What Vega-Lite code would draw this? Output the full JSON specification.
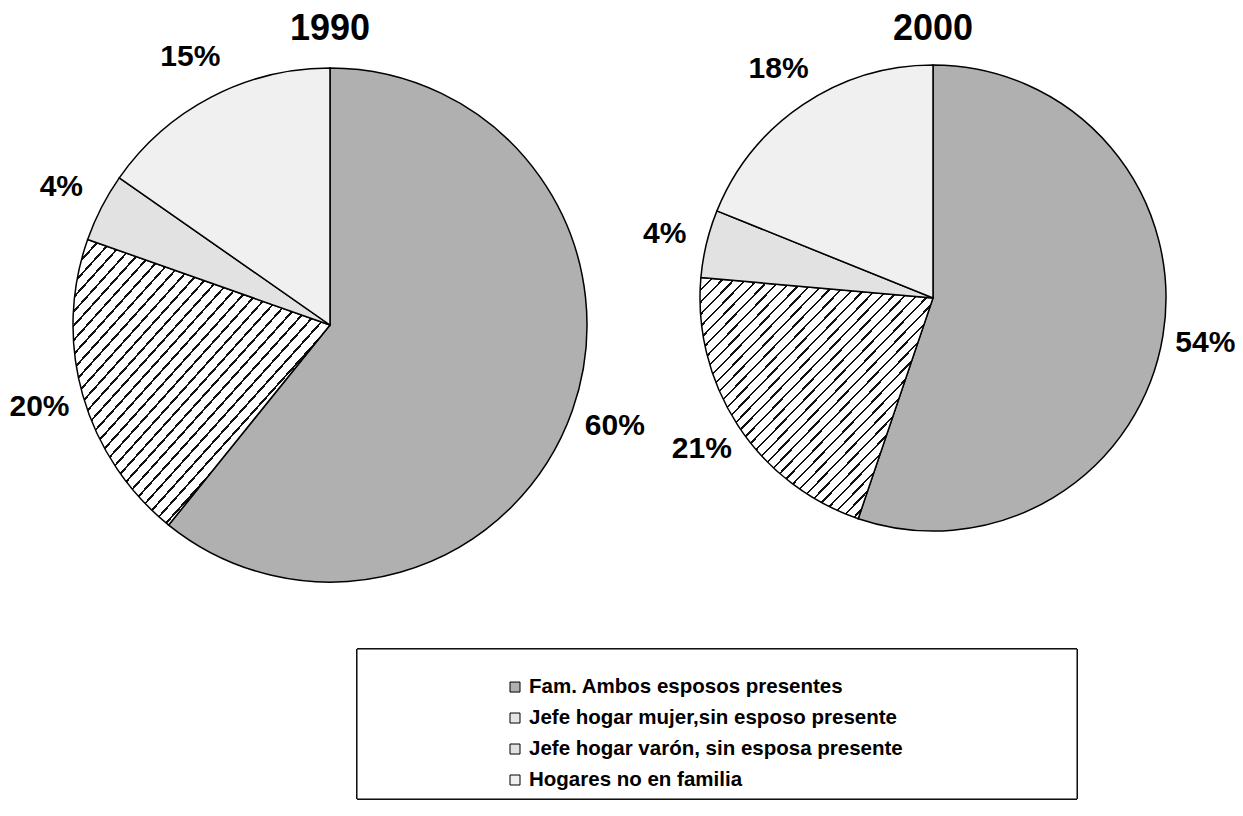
{
  "$schema": "https://vega.github.io/schema/vega-lite/v6.json",
  "background": "white",
  "padding": {"left": 0, "top": 11, "right": 0, "bottom": 0},
  "config": {
    "view": {"stroke": null},
    "font": "Liberation Sans",
    "title": {"fontSize": 36, "fontWeight": "bold", "font": "Liberation Sans", "color": "black", "offset": -10, "anchor": "middle", "frame": "group"}
  },
  "datasets": {
    "pies": [
      {"year": "1990", "cat": "Fam. Ambos esposos presentes", "ord": 1, "value": 60.8, "label": "60%"},
      {"year": "1990", "cat": "Jefe hogar mujer,sin esposo presente", "ord": 2, "value": 19.6, "label": "20%"},
      {"year": "1990", "cat": "Jefe hogar varón, sin esposa presente", "ord": 3, "value": 4.3, "label": "4%"},
      {"year": "1990", "cat": "Hogares no en familia", "ord": 4, "value": 15.3, "label": "15%"},
      {"year": "2000", "cat": "Fam. Ambos esposos presentes", "ord": 1, "value": 55.2, "label": "54%"},
      {"year": "2000", "cat": "Jefe hogar mujer,sin esposo presente", "ord": 2, "value": 21.2, "label": "21%"},
      {"year": "2000", "cat": "Jefe hogar varón, sin esposa presente", "ord": 3, "value": 4.7, "label": "4%"},
      {"year": "2000", "cat": "Hogares no en familia", "ord": 4, "value": 18.9, "label": "18%"}
    ],
    "legend": [
      {"cat": "Fam. Ambos esposos presentes", "ord": 1},
      {"cat": "Jefe hogar mujer,sin esposo presente", "ord": 2},
      {"cat": "Jefe hogar varón, sin esposa presente", "ord": 3},
      {"cat": "Hogares no en familia", "ord": 4}
    ]
  },
  "spacing": 36,
  "vconcat": [
    {
      "bounds": "flush",
      "spacing": 20,
      "hconcat": [
        {
          "title": "1990",
          "width": 660,
          "height": 574,
          "data": {"name": "pies"},
          "transform": [{"filter": "datum.year === '1990'"}],
          "layer": [
            {
              "mark": {"type": "arc", "outerRadius": 257, "stroke": "black", "strokeWidth": 1.5},
              "encoding": {
                "theta": {"field": "value", "type": "quantitative", "stack": true},
                "order": {"field": "ord", "type": "quantitative"},
                "fill": {
                  "condition": {"test": "datum.cat === 'Jefe hogar mujer,sin esposo presente'",
                    "value": {"gradient": "linear", "x1": 0, "y1": 0, "x2": 1, "y2": 1, "stops": [
                      {"offset": 0, "color": "#111"}, {"offset": 0.005, "color": "#111"}, {"offset": 0.005, "color": "#fff"}, {"offset": 0.025, "color": "#fff"},
                      {"offset": 0.025, "color": "#111"}, {"offset": 0.03, "color": "#111"}, {"offset": 0.03, "color": "#fff"}, {"offset": 0.05, "color": "#fff"},
                      {"offset": 0.05, "color": "#111"}, {"offset": 0.055, "color": "#111"}, {"offset": 0.055, "color": "#fff"}, {"offset": 0.075, "color": "#fff"},
                      {"offset": 0.075, "color": "#111"}, {"offset": 0.08, "color": "#111"}, {"offset": 0.08, "color": "#fff"}, {"offset": 0.1, "color": "#fff"},
                      {"offset": 0.1, "color": "#111"}, {"offset": 0.105, "color": "#111"}, {"offset": 0.105, "color": "#fff"}, {"offset": 0.125, "color": "#fff"},
                      {"offset": 0.125, "color": "#111"}, {"offset": 0.13, "color": "#111"}, {"offset": 0.13, "color": "#fff"}, {"offset": 0.15, "color": "#fff"},
                      {"offset": 0.15, "color": "#111"}, {"offset": 0.155, "color": "#111"}, {"offset": 0.155, "color": "#fff"}, {"offset": 0.175, "color": "#fff"},
                      {"offset": 0.175, "color": "#111"}, {"offset": 0.18, "color": "#111"}, {"offset": 0.18, "color": "#fff"}, {"offset": 0.2, "color": "#fff"},
                      {"offset": 0.2, "color": "#111"}, {"offset": 0.205, "color": "#111"}, {"offset": 0.205, "color": "#fff"}, {"offset": 0.225, "color": "#fff"},
                      {"offset": 0.225, "color": "#111"}, {"offset": 0.23, "color": "#111"}, {"offset": 0.23, "color": "#fff"}, {"offset": 0.25, "color": "#fff"},
                      {"offset": 0.25, "color": "#111"}, {"offset": 0.255, "color": "#111"}, {"offset": 0.255, "color": "#fff"}, {"offset": 0.275, "color": "#fff"},
                      {"offset": 0.275, "color": "#111"}, {"offset": 0.28, "color": "#111"}, {"offset": 0.28, "color": "#fff"}, {"offset": 0.3, "color": "#fff"},
                      {"offset": 0.3, "color": "#111"}, {"offset": 0.305, "color": "#111"}, {"offset": 0.305, "color": "#fff"}, {"offset": 0.325, "color": "#fff"},
                      {"offset": 0.325, "color": "#111"}, {"offset": 0.33, "color": "#111"}, {"offset": 0.33, "color": "#fff"}, {"offset": 0.35, "color": "#fff"},
                      {"offset": 0.35, "color": "#111"}, {"offset": 0.355, "color": "#111"}, {"offset": 0.355, "color": "#fff"}, {"offset": 0.375, "color": "#fff"},
                      {"offset": 0.375, "color": "#111"}, {"offset": 0.38, "color": "#111"}, {"offset": 0.38, "color": "#fff"}, {"offset": 0.4, "color": "#fff"},
                      {"offset": 0.4, "color": "#111"}, {"offset": 0.405, "color": "#111"}, {"offset": 0.405, "color": "#fff"}, {"offset": 0.425, "color": "#fff"},
                      {"offset": 0.425, "color": "#111"}, {"offset": 0.43, "color": "#111"}, {"offset": 0.43, "color": "#fff"}, {"offset": 0.45, "color": "#fff"},
                      {"offset": 0.45, "color": "#111"}, {"offset": 0.455, "color": "#111"}, {"offset": 0.455, "color": "#fff"}, {"offset": 0.475, "color": "#fff"},
                      {"offset": 0.475, "color": "#111"}, {"offset": 0.48, "color": "#111"}, {"offset": 0.48, "color": "#fff"}, {"offset": 0.5, "color": "#fff"},
                      {"offset": 0.5, "color": "#111"}, {"offset": 0.505, "color": "#111"}, {"offset": 0.505, "color": "#fff"}, {"offset": 0.525, "color": "#fff"},
                      {"offset": 0.525, "color": "#111"}, {"offset": 0.53, "color": "#111"}, {"offset": 0.53, "color": "#fff"}, {"offset": 0.55, "color": "#fff"},
                      {"offset": 0.55, "color": "#111"}, {"offset": 0.555, "color": "#111"}, {"offset": 0.555, "color": "#fff"}, {"offset": 0.575, "color": "#fff"},
                      {"offset": 0.575, "color": "#111"}, {"offset": 0.58, "color": "#111"}, {"offset": 0.58, "color": "#fff"}, {"offset": 0.6, "color": "#fff"},
                      {"offset": 0.6, "color": "#111"}, {"offset": 0.605, "color": "#111"}, {"offset": 0.605, "color": "#fff"}, {"offset": 0.625, "color": "#fff"},
                      {"offset": 0.625, "color": "#111"}, {"offset": 0.63, "color": "#111"}, {"offset": 0.63, "color": "#fff"}, {"offset": 0.65, "color": "#fff"},
                      {"offset": 0.65, "color": "#111"}, {"offset": 0.655, "color": "#111"}, {"offset": 0.655, "color": "#fff"}, {"offset": 0.675, "color": "#fff"},
                      {"offset": 0.675, "color": "#111"}, {"offset": 0.68, "color": "#111"}, {"offset": 0.68, "color": "#fff"}, {"offset": 0.7, "color": "#fff"},
                      {"offset": 0.7, "color": "#111"}, {"offset": 0.705, "color": "#111"}, {"offset": 0.705, "color": "#fff"}, {"offset": 0.725, "color": "#fff"},
                      {"offset": 0.725, "color": "#111"}, {"offset": 0.73, "color": "#111"}, {"offset": 0.73, "color": "#fff"}, {"offset": 0.75, "color": "#fff"},
                      {"offset": 0.75, "color": "#111"}, {"offset": 0.755, "color": "#111"}, {"offset": 0.755, "color": "#fff"}, {"offset": 0.775, "color": "#fff"},
                      {"offset": 0.775, "color": "#111"}, {"offset": 0.78, "color": "#111"}, {"offset": 0.78, "color": "#fff"}, {"offset": 0.8, "color": "#fff"},
                      {"offset": 0.8, "color": "#111"}, {"offset": 0.805, "color": "#111"}, {"offset": 0.805, "color": "#fff"}, {"offset": 0.825, "color": "#fff"},
                      {"offset": 0.825, "color": "#111"}, {"offset": 0.83, "color": "#111"}, {"offset": 0.83, "color": "#fff"}, {"offset": 0.85, "color": "#fff"},
                      {"offset": 0.85, "color": "#111"}, {"offset": 0.855, "color": "#111"}, {"offset": 0.855, "color": "#fff"}, {"offset": 0.875, "color": "#fff"},
                      {"offset": 0.875, "color": "#111"}, {"offset": 0.88, "color": "#111"}, {"offset": 0.88, "color": "#fff"}, {"offset": 0.9, "color": "#fff"},
                      {"offset": 0.9, "color": "#111"}, {"offset": 0.905, "color": "#111"}, {"offset": 0.905, "color": "#fff"}, {"offset": 0.925, "color": "#fff"},
                      {"offset": 0.925, "color": "#111"}, {"offset": 0.93, "color": "#111"}, {"offset": 0.93, "color": "#fff"}, {"offset": 0.95, "color": "#fff"},
                      {"offset": 0.95, "color": "#111"}, {"offset": 0.955, "color": "#111"}, {"offset": 0.955, "color": "#fff"}, {"offset": 0.975, "color": "#fff"},
                      {"offset": 0.975, "color": "#111"}, {"offset": 0.98, "color": "#111"}, {"offset": 0.98, "color": "#fff"}, {"offset": 1, "color": "#fff"}
                    ]}},
                  "field": "cat", "type": "nominal", "legend": null,
                  "scale": {"domain": ["Fam. Ambos esposos presentes", "Jefe hogar mujer,sin esposo presente", "Jefe hogar varón, sin esposa presente", "Hogares no en familia"],
                            "range": ["#b0b0b0", "#a4a4a4", "#e2e2e2", "#f0f0f0"]}}
              }
            },
            {
              "mark": {"type": "text", "radius": 302, "fontSize": 30, "fontWeight": "bold", "color": "black"},
              "encoding": {
                "theta": {"field": "value", "type": "quantitative", "stack": true},
                "order": {"field": "ord", "type": "quantitative"},
                "text": {"field": "label", "type": "nominal"}
              }
            }
          ]
        },
        {
          "title": "2000",
          "width": 506,
          "height": 520,
          "data": {"name": "pies"},
          "transform": [{"filter": "datum.year === '2000'"}],
          "layer": [
            {
              "mark": {"type": "arc", "outerRadius": 233, "stroke": "black", "strokeWidth": 1.5},
              "encoding": {
                "theta": {"field": "value", "type": "quantitative", "stack": true},
                "order": {"field": "ord", "type": "quantitative"},
                "fill": {
                  "condition": {"test": "datum.cat === 'Jefe hogar mujer,sin esposo presente'",
                    "value": {"gradient": "linear", "x1": 0, "y1": 0, "x2": 1, "y2": 1, "stops": [
                      {"offset": 0, "color": "#111"}, {"offset": 0.005, "color": "#111"}, {"offset": 0.005, "color": "#fff"}, {"offset": 0.025, "color": "#fff"},
                      {"offset": 0.025, "color": "#111"}, {"offset": 0.03, "color": "#111"}, {"offset": 0.03, "color": "#fff"}, {"offset": 0.05, "color": "#fff"},
                      {"offset": 0.05, "color": "#111"}, {"offset": 0.055, "color": "#111"}, {"offset": 0.055, "color": "#fff"}, {"offset": 0.075, "color": "#fff"},
                      {"offset": 0.075, "color": "#111"}, {"offset": 0.08, "color": "#111"}, {"offset": 0.08, "color": "#fff"}, {"offset": 0.1, "color": "#fff"},
                      {"offset": 0.1, "color": "#111"}, {"offset": 0.105, "color": "#111"}, {"offset": 0.105, "color": "#fff"}, {"offset": 0.125, "color": "#fff"},
                      {"offset": 0.125, "color": "#111"}, {"offset": 0.13, "color": "#111"}, {"offset": 0.13, "color": "#fff"}, {"offset": 0.15, "color": "#fff"},
                      {"offset": 0.15, "color": "#111"}, {"offset": 0.155, "color": "#111"}, {"offset": 0.155, "color": "#fff"}, {"offset": 0.175, "color": "#fff"},
                      {"offset": 0.175, "color": "#111"}, {"offset": 0.18, "color": "#111"}, {"offset": 0.18, "color": "#fff"}, {"offset": 0.2, "color": "#fff"},
                      {"offset": 0.2, "color": "#111"}, {"offset": 0.205, "color": "#111"}, {"offset": 0.205, "color": "#fff"}, {"offset": 0.225, "color": "#fff"},
                      {"offset": 0.225, "color": "#111"}, {"offset": 0.23, "color": "#111"}, {"offset": 0.23, "color": "#fff"}, {"offset": 0.25, "color": "#fff"},
                      {"offset": 0.25, "color": "#111"}, {"offset": 0.255, "color": "#111"}, {"offset": 0.255, "color": "#fff"}, {"offset": 0.275, "color": "#fff"},
                      {"offset": 0.275, "color": "#111"}, {"offset": 0.28, "color": "#111"}, {"offset": 0.28, "color": "#fff"}, {"offset": 0.3, "color": "#fff"},
                      {"offset": 0.3, "color": "#111"}, {"offset": 0.305, "color": "#111"}, {"offset": 0.305, "color": "#fff"}, {"offset": 0.325, "color": "#fff"},
                      {"offset": 0.325, "color": "#111"}, {"offset": 0.33, "color": "#111"}, {"offset": 0.33, "color": "#fff"}, {"offset": 0.35, "color": "#fff"},
                      {"offset": 0.35, "color": "#111"}, {"offset": 0.355, "color": "#111"}, {"offset": 0.355, "color": "#fff"}, {"offset": 0.375, "color": "#fff"},
                      {"offset": 0.375, "color": "#111"}, {"offset": 0.38, "color": "#111"}, {"offset": 0.38, "color": "#fff"}, {"offset": 0.4, "color": "#fff"},
                      {"offset": 0.4, "color": "#111"}, {"offset": 0.405, "color": "#111"}, {"offset": 0.405, "color": "#fff"}, {"offset": 0.425, "color": "#fff"},
                      {"offset": 0.425, "color": "#111"}, {"offset": 0.43, "color": "#111"}, {"offset": 0.43, "color": "#fff"}, {"offset": 0.45, "color": "#fff"},
                      {"offset": 0.45, "color": "#111"}, {"offset": 0.455, "color": "#111"}, {"offset": 0.455, "color": "#fff"}, {"offset": 0.475, "color": "#fff"},
                      {"offset": 0.475, "color": "#111"}, {"offset": 0.48, "color": "#111"}, {"offset": 0.48, "color": "#fff"}, {"offset": 0.5, "color": "#fff"},
                      {"offset": 0.5, "color": "#111"}, {"offset": 0.505, "color": "#111"}, {"offset": 0.505, "color": "#fff"}, {"offset": 0.525, "color": "#fff"},
                      {"offset": 0.525, "color": "#111"}, {"offset": 0.53, "color": "#111"}, {"offset": 0.53, "color": "#fff"}, {"offset": 0.55, "color": "#fff"},
                      {"offset": 0.55, "color": "#111"}, {"offset": 0.555, "color": "#111"}, {"offset": 0.555, "color": "#fff"}, {"offset": 0.575, "color": "#fff"},
                      {"offset": 0.575, "color": "#111"}, {"offset": 0.58, "color": "#111"}, {"offset": 0.58, "color": "#fff"}, {"offset": 0.6, "color": "#fff"},
                      {"offset": 0.6, "color": "#111"}, {"offset": 0.605, "color": "#111"}, {"offset": 0.605, "color": "#fff"}, {"offset": 0.625, "color": "#fff"},
                      {"offset": 0.625, "color": "#111"}, {"offset": 0.63, "color": "#111"}, {"offset": 0.63, "color": "#fff"}, {"offset": 0.65, "color": "#fff"},
                      {"offset": 0.65, "color": "#111"}, {"offset": 0.655, "color": "#111"}, {"offset": 0.655, "color": "#fff"}, {"offset": 0.675, "color": "#fff"},
                      {"offset": 0.675, "color": "#111"}, {"offset": 0.68, "color": "#111"}, {"offset": 0.68, "color": "#fff"}, {"offset": 0.7, "color": "#fff"},
                      {"offset": 0.7, "color": "#111"}, {"offset": 0.705, "color": "#111"}, {"offset": 0.705, "color": "#fff"}, {"offset": 0.725, "color": "#fff"},
                      {"offset": 0.725, "color": "#111"}, {"offset": 0.73, "color": "#111"}, {"offset": 0.73, "color": "#fff"}, {"offset": 0.75, "color": "#fff"},
                      {"offset": 0.75, "color": "#111"}, {"offset": 0.755, "color": "#111"}, {"offset": 0.755, "color": "#fff"}, {"offset": 0.775, "color": "#fff"},
                      {"offset": 0.775, "color": "#111"}, {"offset": 0.78, "color": "#111"}, {"offset": 0.78, "color": "#fff"}, {"offset": 0.8, "color": "#fff"},
                      {"offset": 0.8, "color": "#111"}, {"offset": 0.805, "color": "#111"}, {"offset": 0.805, "color": "#fff"}, {"offset": 0.825, "color": "#fff"},
                      {"offset": 0.825, "color": "#111"}, {"offset": 0.83, "color": "#111"}, {"offset": 0.83, "color": "#fff"}, {"offset": 0.85, "color": "#fff"},
                      {"offset": 0.85, "color": "#111"}, {"offset": 0.855, "color": "#111"}, {"offset": 0.855, "color": "#fff"}, {"offset": 0.875, "color": "#fff"},
                      {"offset": 0.875, "color": "#111"}, {"offset": 0.88, "color": "#111"}, {"offset": 0.88, "color": "#fff"}, {"offset": 0.9, "color": "#fff"},
                      {"offset": 0.9, "color": "#111"}, {"offset": 0.905, "color": "#111"}, {"offset": 0.905, "color": "#fff"}, {"offset": 0.925, "color": "#fff"},
                      {"offset": 0.925, "color": "#111"}, {"offset": 0.93, "color": "#111"}, {"offset": 0.93, "color": "#fff"}, {"offset": 0.95, "color": "#fff"},
                      {"offset": 0.95, "color": "#111"}, {"offset": 0.955, "color": "#111"}, {"offset": 0.955, "color": "#fff"}, {"offset": 0.975, "color": "#fff"},
                      {"offset": 0.975, "color": "#111"}, {"offset": 0.98, "color": "#111"}, {"offset": 0.98, "color": "#fff"}, {"offset": 1, "color": "#fff"}
                    ]}},
                  "field": "cat", "type": "nominal", "legend": null,
                  "scale": {"domain": ["Fam. Ambos esposos presentes", "Jefe hogar mujer,sin esposo presente", "Jefe hogar varón, sin esposa presente", "Hogares no en familia"],
                            "range": ["#b0b0b0", "#a4a4a4", "#e2e2e2", "#f0f0f0"]}}
              }
            },
            {
              "mark": {"type": "text", "radius": 276, "fontSize": 30, "fontWeight": "bold", "color": "black"},
              "encoding": {
                "theta": {"field": "value", "type": "quantitative", "stack": true},
                "order": {"field": "ord", "type": "quantitative"},
                "text": {"field": "label", "type": "nominal"}
              }
            }
          ]
        }
      ]
    },
    {
      "width": 1078,
      "height": 150,
      "data": {"name": "legend"},
      "layer": [
        {
          "mark": {"type": "rect", "fill": "white", "stroke": "black", "strokeWidth": 1},
          "encoding": {
            "x": {"datum": 357, "type": "quantitative", "scale": {"domain": [0, 1078], "nice": false, "zero": false}, "axis": null},
            "x2": {"datum": 1077}
          }
        },
        {
          "mark": {"type": "point", "shape": "square", "size": 100, "filled": true, "stroke": "black", "strokeWidth": 1, "opacity": 1},
          "encoding": {
            "x": {"datum": 515, "type": "quantitative"},
            "y": {"field": "cat", "type": "nominal", "sort": {"field": "ord"}, "axis": null,
                  "scale": {"type": "point", "padding": 0.92, "align": 0.667}},
            "fill": {
              "condition": {"test": "datum.cat === 'Jefe hogar mujer,sin esposo presente'", "value": "#e6e6e6"},
              "field": "cat", "type": "nominal", "legend": null,
              "scale": {"domain": ["Fam. Ambos esposos presentes", "Jefe hogar mujer,sin esposo presente", "Jefe hogar varón, sin esposa presente", "Hogares no en familia"],
                        "range": ["#b0b0b0", "#a4a4a4", "#e2e2e2", "#f0f0f0"]}}
          }
        },
        {
          "mark": {"type": "text", "align": "left", "baseline": "middle", "fontSize": 20.5, "fontWeight": "bold", "color": "black"},
          "encoding": {
            "x": {"datum": 529, "type": "quantitative"},
            "y": {"field": "cat", "type": "nominal", "sort": {"field": "ord"}, "axis": null},
            "text": {"field": "cat", "type": "nominal"}
          }
        }
      ]
    }
  ]
}
